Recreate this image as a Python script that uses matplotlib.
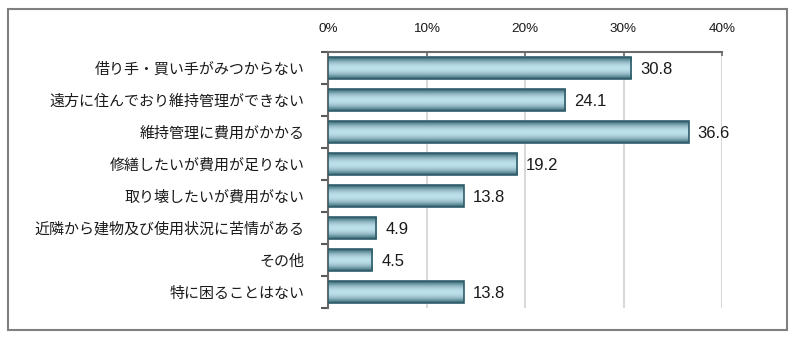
import matplotlib.pyplot as plt
import matplotlib.patches as mpatches
import numpy as np

plt.rcParams['font.family'] = ['Noto Sans CJK JP', 'DejaVu Sans']

categories = ['借り手・買い手がみつからない', '遠方に住んでおり維持管理ができない',
              '維持管理に費用がかかる', '修繕したいが費用が足りない',
              '取り壊したいが費用がない', '近隣から建物及び使用状況に苦情がある',
              'その他', '特に困ることはない']
values = [30.8, 24.1, 36.6, 19.2, 13.8, 4.9, 4.5, 13.8]
x_ticks = [0, 10, 20, 30, 40]

fig = plt.figure(figsize=(8, 3.38), dpi=100)
fig.patch.set_facecolor('white')
# outer frame
fig.add_artist(mpatches.Rectangle((8 / 800, 8 / 338), 779 / 800, 321 / 338,
                                  transform=fig.transFigure, fill=False,
                                  edgecolor='#7f7f7f', linewidth=1.5))

ax = fig.add_axes([328 / 800, 30 / 338, 394 / 800, 256 / 338])
n = len(categories)
ypos = np.arange(n)
bar_h = 0.68

# vertical gradient: dark teal edges, pale cyan middle
t = np.linspace(-1, 1, 64)
shade = np.abs(t) ** 2.0
dark = np.array([0.17, 0.35, 0.41])
light = np.array([0.74, 0.88, 0.92])
grad = light[None, :] * (1 - shade[:, None]) + dark[None, :] * shade[:, None]
grad = grad[:, None, :]

for y, v in zip(ypos, values):
    rect = mpatches.Rectangle((0, y - bar_h / 2), v, bar_h, facecolor='none',
                              edgecolor='#2f5d6b', linewidth=1.2, zorder=4)
    ax.add_patch(rect)
    im = ax.imshow(grad, extent=[0, v, y + bar_h / 2, y - bar_h / 2],
                   aspect='auto', zorder=3, interpolation='bilinear')
    im.set_clip_path(rect)
    ax.text(v + 0.9, y + 0.06, '{:.1f}'.format(v), va='center', ha='left',
            fontsize=12, color='#1a1a1a', family=['Liberation Sans'], zorder=5)

ax.set_xlim(0, 40)
ax.set_ylim(n - 0.5, -0.5)
ax.set_xticks(x_ticks)
ax.set_xticklabels(['{}%'.format(x) for x in x_ticks], fontsize=9.7,
                   family=['Liberation Sans'], color='#1a1a1a')
ax.xaxis.tick_top()
ax.tick_params(axis='x', direction='in', length=3, width=1.2,
               color='#6b6b6b', pad=12)
ax.grid(axis='x', color='#d9d9d9', linewidth=1.5, zorder=0)
ax.set_axisbelow(True)

ax.set_yticks(ypos)
ax.set_yticklabels(categories, fontsize=10.8, color='#1a1a1a')
ax.set_yticks(np.arange(n + 1) - 0.5, minor=True)
ax.tick_params(axis='y', which='major', length=0, pad=17)
ax.tick_params(axis='y', which='minor', length=5, width=1.5, color='#595959')

for side in ['right', 'bottom']:
    ax.spines[side].set_visible(False)
for side in ['left', 'top']:
    ax.spines[side].set_color('#6b6b6b')
    ax.spines[side].set_linewidth(1.5)

fig.savefig('out.png', dpi=100)
